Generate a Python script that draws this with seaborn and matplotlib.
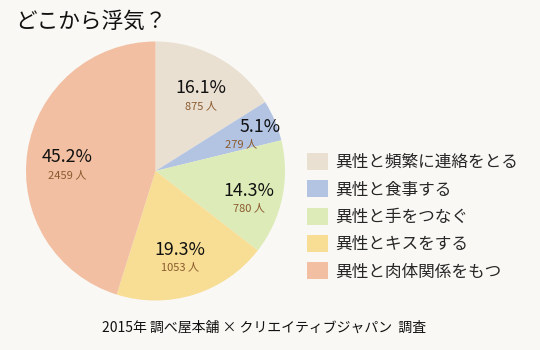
import numpy as np
import seaborn as sns
import matplotlib.pyplot as plt
from matplotlib.patches import Patch

sns.set_theme(style="white")
plt.rcParams['font.family'] = ['Noto Sans CJK JP', 'DejaVu Sans']

# データ
categories = ['異性と頻繁に連絡をとる', '異性と食事する', '異性と手をつなぐ',
              '異性とキスをする', '異性と肉体関係をもつ']
counts = [875, 279, 780, 1053, 2459]
colors = ['#EAE0D2', '#B3C4E3', '#DDEBB8', '#F8DE94', '#F2BFA2']
label_r = [0.73, 0.88, 0.74, 0.64, 0.69]    # ラベル位置（半径比）
count_dx = [0, -0.15, 0, 0, 0]              # 人数ラベルの横ずれ

bg = '#F9F8F4'
fig = plt.figure(figsize=(5.4, 3.5), dpi=100, facecolor=bg)

# 円グラフ
R = 129.5
ax = fig.add_axes([(155.5 - R) / 540, (179 - R) / 350, 2 * R / 540, 2 * R / 350])
ax.set_facecolor(bg)
wedges, _ = ax.pie(counts, colors=colors, startangle=90, counterclock=False,
                   wedgeprops={'linewidth': 0}, radius=1.0)
ax.set_xlim(-1, 1)
ax.set_ylim(-1, 1)
ax.set_aspect('equal')

total = sum(counts)
for w, c, r, dx in zip(wedges, counts, label_r, count_dx):
    ang = np.deg2rad((w.theta1 + w.theta2) / 2)
    x, y = r * np.cos(ang), r * np.sin(ang)
    ax.text(x, y, f'{c / total * 100:.1f}%', ha='center', va='center',
            fontsize=12.8, color='#111111')
    ax.text(x + dx, y - 0.135, f'{c} 人', ha='center', va='center',
            fontsize=8, color='#8A5A2E')

# 凡例
handles = [Patch(facecolor=col, edgecolor='none') for col in colors]
fig.legend(handles, categories, loc='upper left', bbox_to_anchor=(307 / 540, 1 - 153 / 350),
           frameon=False, fontsize=12, handlelength=1.25, handleheight=1.2,
           handletextpad=0.45, labelspacing=0.55, borderaxespad=0, borderpad=0)

# タイトル・出典
fig.text(15 / 540, 1 - 22 / 350, 'どこから浮気？', fontsize=15.6, va='center', ha='left', color='#111111')
fig.text(264 / 540, 1 - 328 / 350, '2015年 調べ屋本舗 × クリエイティブジャパン  調査',
         fontsize=10, ha='center', va='center', color='#111111')

fig.savefig('out.png', dpi=100, facecolor=bg)
